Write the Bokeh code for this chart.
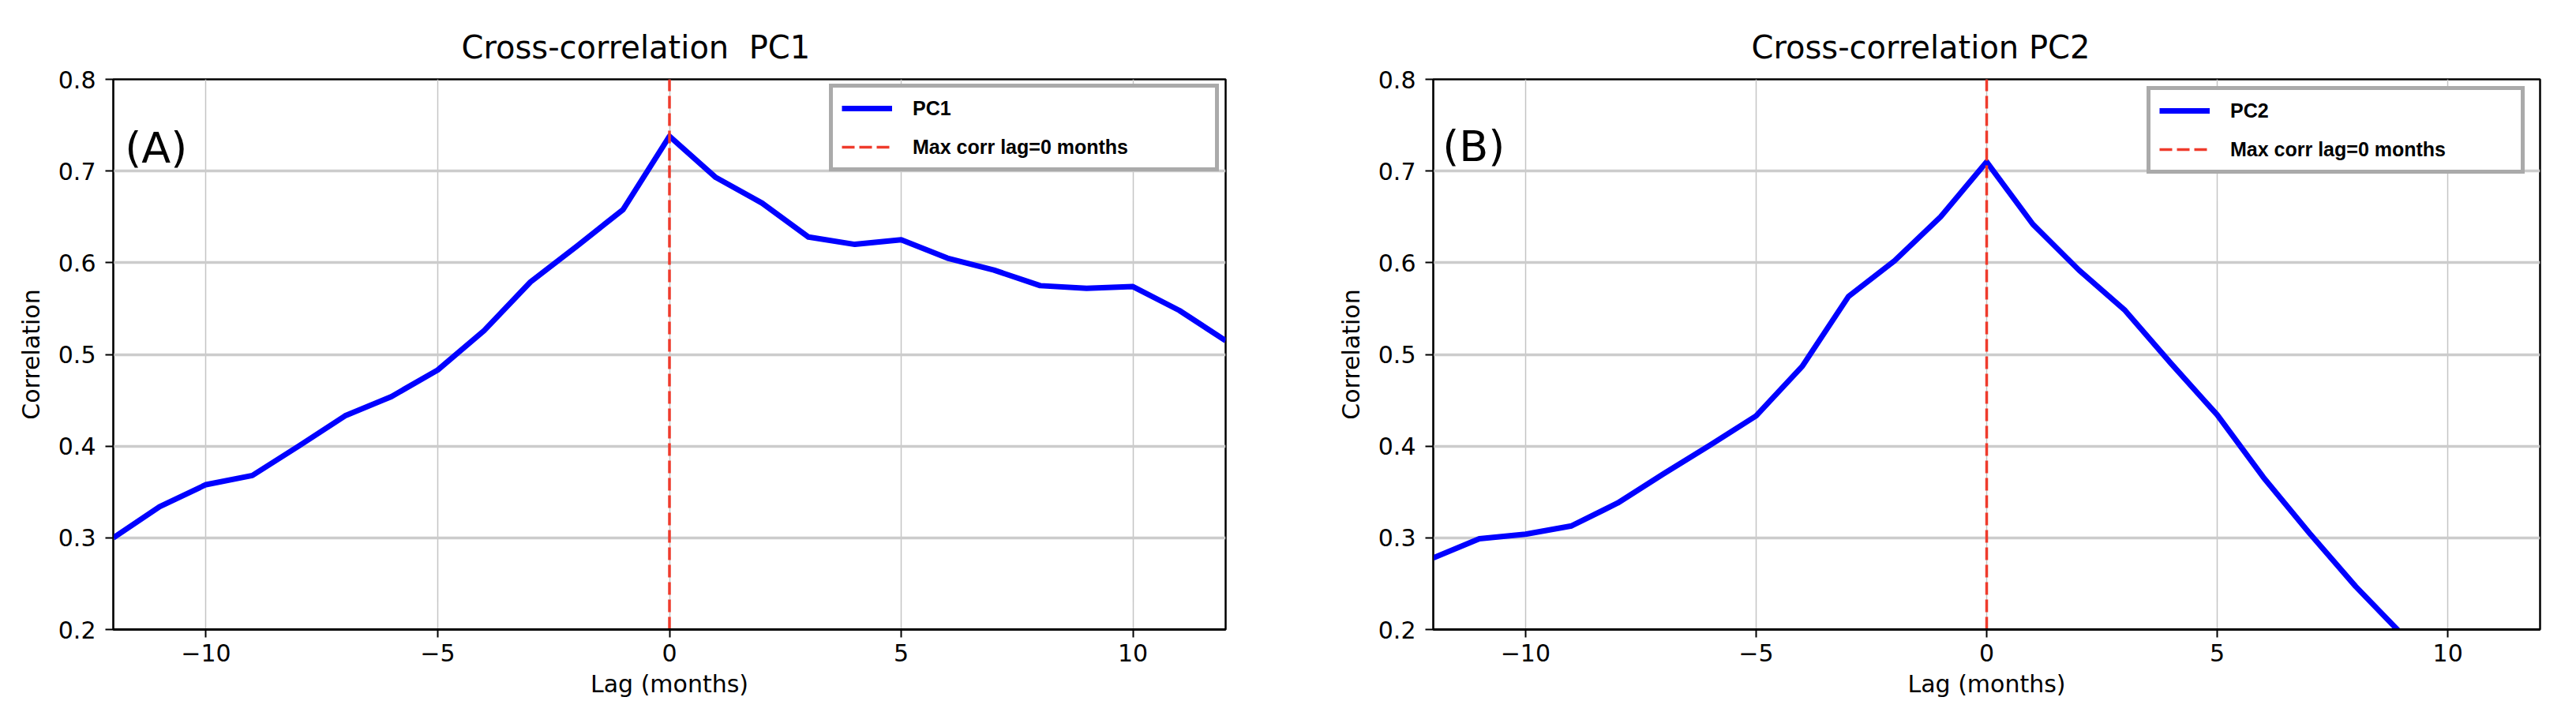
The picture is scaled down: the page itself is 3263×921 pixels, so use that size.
from bokeh.plotting import figure
from bokeh.layouts import row
from bokeh.models import Legend, LegendItem, FixedTicker, Range1d, Label
from bokeh.embed import file_html
from bokeh.resources import INLINE

# ---- data ----
lags_pc1 = [-12, -11, -10, -9, -8, -7, -6, -5, -4, -3, -2, -1, 0, 1, 2, 3, 4, 5, 6, 7, 8, 9, 10, 11, 12]
corr_pc1 = [0.300, 0.334, 0.358, 0.368, 0.400, 0.433, 0.454, 0.483, 0.526, 0.579, 0.618, 0.658, 0.738,
            0.693, 0.665, 0.628, 0.620, 0.625, 0.605, 0.592, 0.575, 0.572, 0.574, 0.548, 0.515]
lags_pc2 = [-12, -11, -10, -9, -8, -7, -6, -5, -4, -3, -2, -1, 0, 1, 2, 3, 4, 5, 6, 7, 8, 9]
corr_pc2 = [0.278, 0.299, 0.304, 0.313, 0.338, 0.370, 0.401, 0.433, 0.487, 0.563, 0.602, 0.650, 0.710,
            0.642, 0.592, 0.548, 0.490, 0.434, 0.366, 0.305, 0.247, 0.195]
max_lag_pc1 = 0
max_lag_pc2 = 0
x_ticks = [-10, -5, 0, 5, 10]
y_ticks = [0.2, 0.3, 0.4, 0.5, 0.6, 0.7, 0.8]
x_range = (-12, 12)
y_range = (0.2, 0.8)
titles = ["Cross-correlation\u00a0 PC1", "Cross-correlation PC2"]
panel_tags = ["(A)", "(B)"]
series_names = ["PC1", "PC2"]
vline_label = "Max corr lag=0 months"

FONT = "DejaVu Sans"
BLUE = "#0000ff"
RED = "#ef3b2c"
FIG_H = 915


def make_panel(lags, corr, max_lag, title, tag, name, width, bl, br, bt, frame_h, title_offset,
               tag_x, tag_y, legend_label_width, legend_loc):
    p = figure(width=width, height=FIG_H, output_backend="svg", toolbar_location=None,
               x_range=Range1d(*x_range), y_range=Range1d(*y_range),
               min_border_left=bl, min_border_right=br, min_border_top=bt,
               min_border_bottom=FIG_H - bt - frame_h)
    p.background_fill_color = "white"
    p.border_fill_color = "white"
    p.outline_line_color = "black"
    p.outline_line_width = 2.5

    # title
    p.title.text = title
    p.title.text_font = FONT
    p.title.text_font_size = "40px"
    p.title.text_font_style = "normal"
    p.title.text_color = "black"
    p.title.align = "left"
    p.title.offset = title_offset
    p.title.standoff = 36

    # axes
    for ax in (p.xaxis[0], p.yaxis[0]):
        ax.major_label_text_font = FONT
        ax.major_label_text_font_size = "30px"
        ax.major_label_text_color = "black"
        ax.axis_label_text_font = FONT
        ax.axis_label_text_font_size = "30px"
        ax.axis_label_text_font_style = "normal"
        ax.axis_label_text_color = "black"
        ax.minor_tick_line_color = None
        ax.major_tick_in = 0
        ax.major_tick_line_color = "black"
        ax.major_tick_line_width = 2
        ax.axis_line_color = "black"
    p.xaxis.ticker = FixedTicker(ticks=x_ticks)
    p.yaxis.ticker = FixedTicker(ticks=y_ticks)
    p.xaxis.major_label_overrides = {t: (("\u2212" + str(abs(t))) if t < 0 else str(t)) for t in x_ticks}
    p.xaxis.axis_label = "Lag (months)"
    p.yaxis.axis_label = "Correlation"
    p.xaxis.major_tick_out = 10
    p.yaxis.major_tick_out = 10
    p.xaxis.axis_line_width = 3
    p.yaxis.axis_line_width = 1.5
    p.xaxis.major_label_standoff = 8
    p.yaxis.major_label_standoff = 12
    p.xaxis.axis_label_standoff = 8
    p.yaxis.axis_label_standoff = 14

    # grids
    p.xgrid.ticker = FixedTicker(ticks=x_ticks)
    p.ygrid.ticker = FixedTicker(ticks=y_ticks)
    p.xgrid.grid_line_color = "#c4c4c4"
    p.xgrid.grid_line_width = 1.5
    p.ygrid.grid_line_color = "#cccccc"
    p.ygrid.grid_line_width = 3.5

    # data
    r_line = p.line(lags, corr, line_color=BLUE, line_width=7, line_join="round")
    r_vline = p.line([max_lag, max_lag], [y_range[0], y_range[1]], line_color=RED, line_width=3.5,
                     line_dash="16 6")

    legend = Legend(items=[LegendItem(label=name, renderers=[r_line]),
                           LegendItem(label=vline_label, renderers=[r_vline])],
                    location=legend_loc)
    legend.label_text_font = "Liberation Sans"
    legend.label_text_font_style = "bold"
    legend.label_text_font_size = "25px"
    legend.label_text_color = "black"
    legend.label_standoff = 26
    legend.label_width = legend_label_width
    legend.label_height = 30
    legend.glyph_width = 64
    legend.glyph_height = 30
    legend.spacing = 19
    legend.padding = 11
    legend.margin = 0
    legend.border_line_color = "#aaaaaa"
    legend.border_line_width = 5
    legend.border_line_alpha = 1.0
    legend.background_fill_color = "white"
    legend.background_fill_alpha = 1.0
    p.add_layout(legend, "center")

    lbl = Label(x=tag_x, y=tag_y, text=tag, text_font=FONT, text_font_size="54px",
                text_color="black", text_baseline="alphabetic", text_align="left")
    p.add_layout(lbl)
    return p


p1 = make_panel(lags_pc1, corr_pc1, max_lag_pc1, titles[0], panel_tags[0], series_names[0],
                width=1650, bl=143, br=98, bt=98, frame_h=699, title_offset=441,
                tag_x=-11.75, tag_y=0.725, legend_label_width=372, legend_loc=(907, 580))
p2 = make_panel(lags_pc2, corr_pc2, max_lag_pc2, titles[1], panel_tags[1], series_names[1],
                width=1611, bl=165, br=44, bt=100, frame_h=697, title_offset=403,
                tag_x=-11.8, tag_y=0.727, legend_label_width=357, legend_loc=(904, 577))

layout = row(p1, p2)
open("out.html", "w").write(file_html(layout, INLINE))
